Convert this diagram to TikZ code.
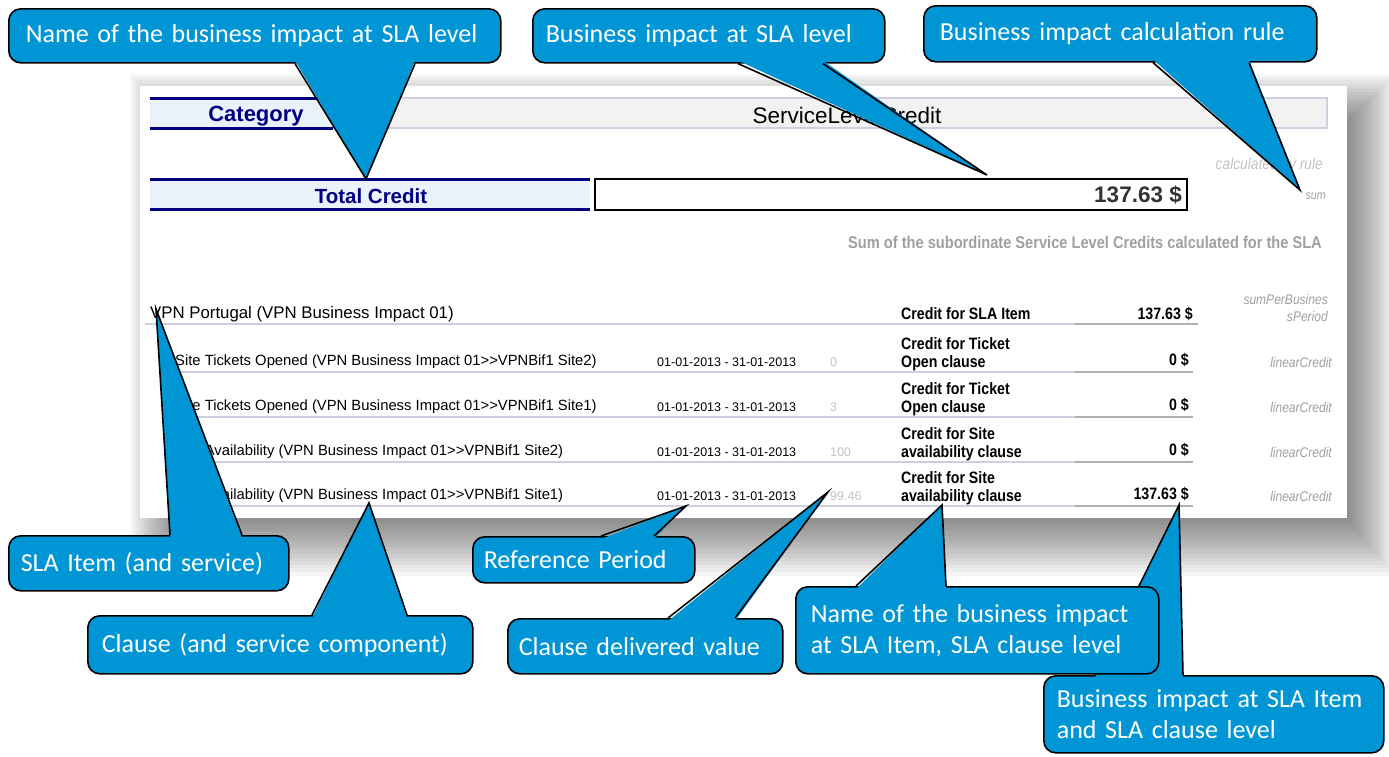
\documentclass[tikz,border=0pt]{standalone}
\usepackage{fontspec}
\setmainfont{Liberation Sans}
\newfontfamily\calloutfont{Carlito}
\newfontfamily\narrowfont[FakeStretch=0.86]{Liberation Sans}
\usetikzlibrary{calc}

% tail of a callout: #1 callout, #2 edge anchor, #3/#4 base x, #5 inward shift
\newcommand{\callouttail}[5]{%
    \fill[hpblue] ($(#1.#2 -| #3,0)+(0,#5)$) -- (#1-tip) -- ($(#1.#2 -| #4,0)+(0,#5)$) -- cycle;
    \draw[outline] (#1.#2 -| #3,0) -- (#1-tip) -- (#1.#2 -| #4,0);
}

\begin{document}
\begin{tikzpicture}[x=1pt, y=-1pt,
        callout/.style={fill=hpblue, draw=black, line width=1.6pt, rounded corners=12pt,
            text=white, font={\calloutfont\fontsize{26}{31}\selectfont\hyphenpenalty=10000}, align=left,
            anchor=north west, inner ysep=0pt},
        outline/.style={draw=black, line width=1.6pt, line join=miter},
        navyrule/.style={navy, line width=3pt},
        rowrule/.style={lavender, line width=2.5pt},
        label/.style={inner sep=0pt, anchor=mid west},
        rightlabel/.style={inner sep=0pt, anchor=mid east},
        headtext/.style={inner sep=0pt, text=navy, font=\bfseries\fontsize{22}{26}\selectfont},
        rulenote/.style={rightlabel, text=notegray, font=\narrowfont\itshape\fontsize{14}{17}\selectfont},
        clausetext/.style={label, font=\fontsize{14.8}{17}\selectfont},
        datetext/.style={label, font=\fontsize{12.5}{15}\selectfont},
        credittext/.style={label, align=left, font=\narrowfont\bfseries\fontsize{16.5}{18}\selectfont},
        amounttext/.style={rightlabel, font=\narrowfont\bfseries\fontsize{16.5}{18}\selectfont}]
        % -- colour definitions --------------------------------------------------
        \definecolor{hpblue}{RGB}{0,150,214}
        \definecolor{navy}{RGB}{0,0,128}
        \definecolor{bandblue}{RGB}{234,242,252}
        \definecolor{headgray}{RGB}{242,242,242}
        \definecolor{lavender}{RGB}{206,206,224}
        \definecolor{rulegray}{RGB}{176,176,176}
        \definecolor{notegray}{RGB}{160,160,160}
        \definecolor{valgray}{RGB}{195,195,195}
        \definecolor{darktext}{RGB}{51,51,51}

        \useasboundingbox (0,0) rectangle (1389,756);

        % -- screenshot with its soft shadow -------------------------------------
        \foreach \e in {3,6,...,48} {
            \fill[black, opacity=0.035] (178-\e,122-\e) rectangle (1347+\e,518+1.2*\e);
        }
        \fill[white] (140,86) rectangle (1347,518);

        % -- header row ----------------------------------------------------------
        \fill[bandblue] (150,98) rectangle (333,128);
        \filldraw[fill=headgray, draw=lavender, line width=2pt] (333,98) rectangle (1327,128);
        \draw[navyrule] (150,98) -- (333,98) (150,128) -- (333,128);
        \node[headtext] (category) at (256,116) {Category};
        \node[inner sep=0pt, font=\fontsize{22.5}{26}\selectfont] (servicelevel) at (847,115) {ServiceLevelCredit};

        % -- total credit --------------------------------------------------------
        \node[rulenote, text=valgray, font=\narrowfont\itshape\fontsize{16}{19}\selectfont] (calcby) at (1323,167) {calculated by rule};
        \fill[bandblue] (150,179) rectangle (590,209);
        \draw[navyrule] (150,179) -- (590,179) (150,209) -- (590,209);
        \node[headtext, font=\bfseries\fontsize{20.5}{24}\selectfont] (totalcredit) at (371,196) {Total Credit};
        \draw[line width=1.3pt] (595,179) rectangle (1187,210);
        \node[rightlabel, text=darktext, font=\bfseries\fontsize{22.5}{26}\selectfont] (totalvalue) at (1182,200) {137.63 \$};
        \node[rulenote, font=\narrowfont\itshape\fontsize{12.5}{15}\selectfont] (sumrule) at (1326,197) {sum};
        \node[rightlabel, text=notegray, font=\narrowfont\bfseries\fontsize{17}{20}\selectfont] (sumnote) at (1322,246)
            {Sum of the subordinate Service Level Credits calculated for the SLA};

        % -- SLA item ------------------------------------------------------------
        \node[label, font=\fontsize{16.8}{20}\selectfont] (slaitem) at (150,316) {VPN Portugal (VPN Business Impact 01)};
        \node[credittext] (itemcredit) at (901,317) {Credit for SLA Item};
        \node[amounttext] (itemamount) at (1193,317) {137.63 \$};
        \node[rulenote, anchor=east, align=right] (itemrule) at (1328,308) {sumPerBusines\\sPeriod};
        \draw[rowrule] (145,324) -- (1075,324);
        \draw[rowrule, rulegray] (1075,324) -- (1198,324);

        % -- clauses -------------------------------------------------------------
        \foreach \y/\clause/\site/\val/\kind/\amount [count=\i] in {
                360/Site Tickets Opened/Site2/0/Ticket\\Open/0,
                405/Site Tickets Opened/Site1/3/Ticket\\Open/0,
                450/Site Availability/Site2/100/Site\\availability/0,
                494/Site Availability/Site1/99.46/Site\\availability/137.63} {
            \node[clausetext] (clause\i) at (175,\y+3) {\clause\ (VPN Business Impact 01>{}>VPNBif1 \site)};
            \node[datetext] (period\i) at (657,\y+4) {01-01-2013 - 31-01-2013};
            \node[datetext, text=valgray] (value\i) at (830,\y+4) {\val};
            \node[credittext, anchor=west] (credit\i) at (901,\y-6) {Credit for \kind\ clause};
            \node[amounttext] (amount\i) at (1189,\y+3) {\amount\ \$};
            \node[rulenote] (rule\i) at (1332,\y+5) {linearCredit};
            \draw[rowrule] (172,\y+12) -- (1075,\y+12);
            \draw[rowrule, rulegray] (1075,\y+12) -- (1193,\y+12);
        }

        % -- callout tips --------------------------------------------------------
        \coordinate (nameSLA-tip)    at (366,179);
        \coordinate (impactSLA-tip)  at (987,175);
        \coordinate (calcRule-tip)   at (1300,190);
        \coordinate (slaItem-tip)    at (156,309);
        \coordinate (clause-tip)     at (369,503);
        \coordinate (refPeriod-tip)  at (686,506);
        \coordinate (delivered-tip)  at (828,492);
        \coordinate (impactItem-tip) at (1179,505);
        \coordinate (nameItem-tip)   at (942,505);

        % -- callouts above the table --------------------------------------------
        \node[callout, minimum height=54pt, text width=458pt, inner xsep=17pt] (nameSLA) at (8,8)
            {Name of the business impact at SLA level};
        \callouttail{nameSLA}{south}{295}{415}{-3}
        \node[callout, minimum height=54pt, text width=326pt, inner xsep=13pt] (impactSLA) at (532,8)
            {Business impact at SLA level};
        \callouttail{impactSLA}{south}{738}{823}{-3}
        \node[callout, minimum height=56pt, text width=361pt, inner xsep=16pt] (calcRule) at (923,5)
            {Business impact calculation rule};
        \callouttail{calcRule}{south}{1153}{1249}{-3}

        % -- callouts below the table --------------------------------------------
        \node[callout, minimum height=55pt, text width=256pt, inner xsep=12pt] (slaItem) at (8,535)
            {SLA Item (and service)};
        \callouttail{slaItem}{north}{170}{242}{3}
        \node[callout, minimum height=58pt, text width=357pt, inner xsep=14pt] (clause) at (87,615)
            {Clause (and service component)};
        \callouttail{clause}{north}{312}{407}{3}
        \node[callout, minimum height=46pt, text width=200pt, inner xsep=11pt] (refPeriod) at (472,536)
            {Reference Period};
        \callouttail{refPeriod}{north}{601}{654}{3}
        \node[callout, minimum height=55pt, text width=253pt, inner xsep=11pt] (delivered) at (507,618)
            {Clause delivered value};
        \callouttail{delivered}{north}{668}{735}{3}
        \node[callout, minimum height=77pt, text width=314pt, inner xsep=13pt] (impactItem) at (1043,675)
            {Business impact at SLA Item\\and SLA clause level};
        \callouttail{impactItem}{north}{1095}{1183}{3}
        \node[callout, minimum height=87pt, text width=333pt, inner xsep=15pt] (nameItem) at (795,586)
            {Name of the business impact\\at SLA Item, SLA clause level};
        \callouttail{nameItem}{north}{856}{946}{3}
\end{tikzpicture}
\end{document}
